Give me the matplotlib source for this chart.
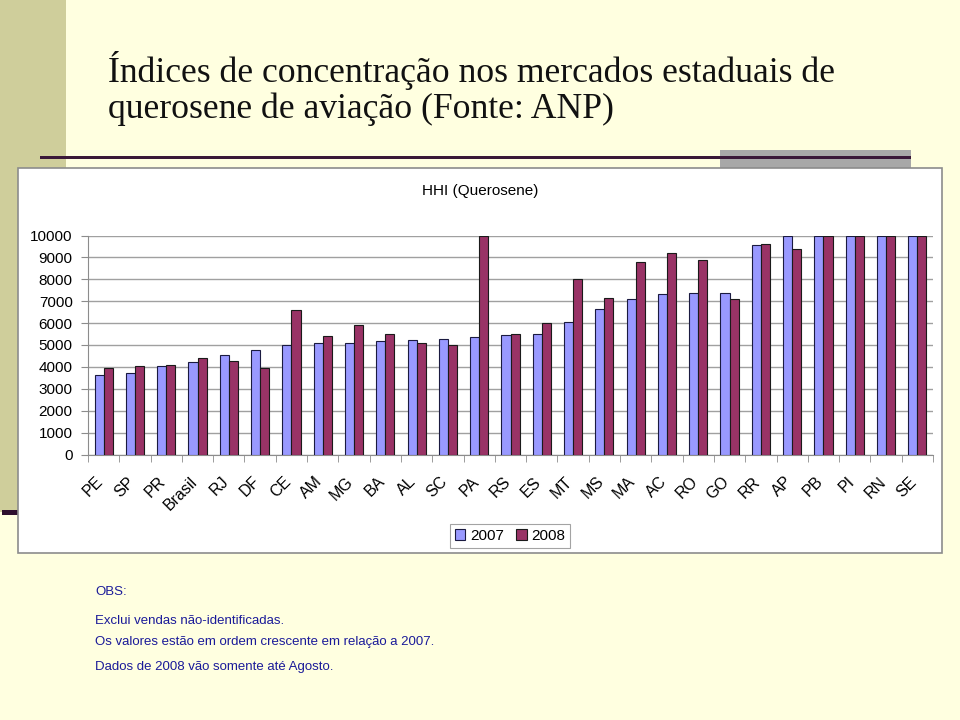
import matplotlib
matplotlib.use("Agg")
import matplotlib.pyplot as plt
from matplotlib.patches import Rectangle
import matplotlib.transforms as mtransforms
import numpy as np

categories = ["PE", "SP", "PR", "Brasil", "RJ", "DF", "CE", "AM", "MG", "BA", "AL", "SC", "PA", "RS",
              "ES", "MT", "MS", "MA", "AC", "RO", "GO", "RR", "AP", "PB", "PI", "RN", "SE"]
hhi_2007 = [3630, 3700, 4040, 4210, 4530, 4770, 4990, 5080, 5080, 5170, 5210, 5260, 5350, 5440,
            5490, 6040, 6630, 7120, 7320, 7360, 7360, 9560, 10000, 10000, 10000, 10000, 10000]
hhi_2008 = [3950, 4040, 4070, 4410, 4250, 3950, 6590, 5400, 5900, 5490, 5080, 5010, 10000, 5490,
            5990, 8030, 7160, 8780, 9220, 8900, 7120, 9630, 9390, 10000, 10000, 10000, 10000]
yticks = [0, 1000, 2000, 3000, 4000, 5000, 6000, 7000, 8000, 9000, 10000]
series_labels = ["2007", "2008"]
title_lines = ["Índices de concentração nos mercados estaduais de",
               "querosene de aviação (Fonte: ANP)"]
chart_title = "HHI (Querosene)"
notes = ["OBS:", "Exclui vendas não-identificadas.",
         "Os valores estão em ordem crescente em relação a 2007.",
         "Dados de 2008 vão somente até Agosto."]

W, H = 960, 720
fig = plt.figure(figsize=(9.6, 7.2), dpi=100)
fig.patch.set_facecolor("#FFFFE0")

def fx(x):
    return x / W

def fy(y):
    return 1 - y / H

def frect(x0, y0, x1, y1, **kw):
    fig.patches.append(Rectangle((fx(x0), fy(y1)), fx(x1 - x0), (y1 - y0) / H,
                                 transform=fig.transFigure, figure=fig, **kw))

# decorative elements
frect(0, 0, 66, 512, facecolor="#CFCE9B", edgecolor="none", zorder=0)
frect(2, 510, 18, 515, facecolor="#2E0F2E", edgecolor="none", zorder=0)
frect(720, 150, 911, 168, facecolor="#A8A8A8", edgecolor="none", zorder=1)
frect(40, 156, 911, 159, facecolor="#3A1838", edgecolor="none", zorder=2)

# chart panel
frect(18, 168, 942, 553, facecolor="white", edgecolor="#8C8C8C", linewidth=1.2, zorder=3)

# title
for yy, line in zip([71, 109], title_lines):
    fig.text(fx(108), fy(yy), line, fontsize=25.7, family="Liberation Serif",
             ha="left", va="center", color="#111111", zorder=5)

fig.text(fx(480), fy(191), chart_title, fontsize=11, family="Liberation Sans",
         ha="center", va="center", color="black", zorder=5)

ax = fig.add_axes([fx(88), fy(454.5), fx(933 - 88), (454.5 - 235.5) / H], zorder=4)
ax.set_facecolor("none")
x = np.arange(len(categories))
bw = 0.29
b1 = ax.bar(x - bw / 2, hhi_2007, width=bw, color="#9999FF", edgecolor="#1A1A40",
            linewidth=0.8, label=series_labels[0], zorder=3)
b2 = ax.bar(x + bw / 2, hhi_2008, width=bw, color="#993366", edgecolor="#1A1A1A",
            linewidth=0.8, label=series_labels[1], zorder=3)
ax.set_xlim(-0.5, len(categories) - 0.5)
ax.set_ylim(0, 10000)
ax.set_yticks(yticks)
ax.set_yticklabels([str(v) for v in yticks], fontsize=11, family="Liberation Sans")
ax.yaxis.grid(True, color="#A0A0A0", linewidth=1, zorder=0)
ax.set_axisbelow(True)
for s in ["top", "right"]:
    ax.spines[s].set_visible(False)
ax.spines["left"].set_color("#8C8C8C")
ax.spines["bottom"].set_color("#8C8C8C")
ax.tick_params(axis="y", length=5, color="#8C8C8C", pad=6)
ax.set_xticks(np.arange(len(categories) + 1) - 0.5, minor=True)
ax.set_xticks(x)
ax.set_xticklabels(categories, rotation=45, ha="right", rotation_mode="anchor",
                   fontsize=11.5, family="Liberation Sans")
ax.tick_params(axis="x", which="major", length=0, pad=14)
ax.tick_params(axis="x", which="minor", length=5, color="#8C8C8C")
offset = mtransforms.ScaledTranslation(-8 / 100, 0, fig.dpi_scale_trans)
for lbl in ax.get_xticklabels():
    lbl.set_transform(lbl.get_transform() + offset)

leg = fig.legend(handles=[b1, b2], labels=series_labels, loc="center",
                 bbox_to_anchor=(fx(510), fy(536)), ncol=2, frameon=True,
                 prop={"family": "Liberation Sans", "size": 11},
                 handlelength=0.7, handleheight=0.7, handletextpad=0.3,
                 columnspacing=0.8, borderpad=0.3, fancybox=False)
leg.get_frame().set_edgecolor("#8C8C8C")
leg.get_frame().set_linewidth(0.8)
leg.set_zorder(6)

ys = [592, 621, 642, 667]
for t, yy in zip(notes, ys):
    fig.text(fx(95), fy(yy), t, fontsize=9.5, family="Liberation Sans", color="#1A1A99",
             ha="left", va="center", zorder=5)

fig.savefig("out.png", dpi=100, facecolor=fig.get_facecolor())
